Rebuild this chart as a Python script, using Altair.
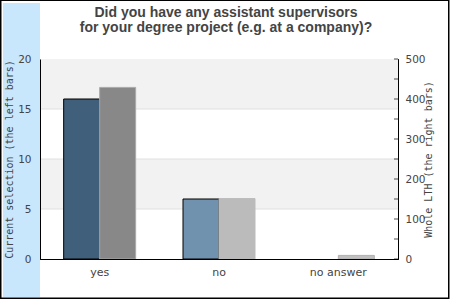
import altair as alt
import pandas as pd

categories = ["yes", "no", "no answer"]
current_selection = [16, 6, 0]
whole_lth = [429, 151, 9]
left_colors = ["#3f5f7a", "#7092ae", "#a9c4d9"]
right_colors = ["#888888", "#bbbbbb", "#c0c0c0"]
right_strokes = ["#aaaaaa", "#bbbbbb", "#b0b0b0"]
left_ticks = [0, 5, 10, 15, 20]
right_ticks = [0, 50, 100, 150, 200, 250, 300, 350, 400, 450, 500]
band_lo = [5, 15]
band_hi = [10, 20]
grid_values = [5, 10, 15]

df = pd.DataFrame({"cat": categories, "cur": current_selection, "whole": whole_lth})
bands = pd.DataFrame({"lo": band_lo, "hi": band_hi})
grid = pd.DataFrame({"g": grid_values})
rticks = pd.DataFrame({"whole": right_ticks})
one = pd.DataFrame({"a": [0]})

label_font = "DejaVu Sans"
mono = "DejaVu Sans Mono"
txt = "#444444"

xenc = alt.X("cat:N", sort=categories,
             scale=alt.Scale(paddingInner=0, paddingOuter=0),
             axis=alt.Axis(title=None, labelAngle=0, ticks=False, labelPadding=7,
                           labelFont=label_font, labelFontSize=11, labelColor=txt,
                           domainColor="black", zindex=1))

yleft_scale = alt.Scale(domain=[0, 20], nice=False)
yright_scale = alt.Scale(domain=[0, 500], nice=False)

right_axis = alt.Axis(title="Whole LTH (the right bars)", orient="right", values=right_ticks,
                      labelExpr="datum.value % 100 == 0 ? datum.label : ''",
                      ticks=False, grid=False, domainColor="black",
                      labelFont=label_font, labelFontSize=10.5, labelColor=txt, labelPadding=7,
                      titleFont=mono, titleFontSize=10, titleFontWeight="normal",
                      titleColor=txt, titleX=30, titleY=100, titleAngle=-90,
                      titleBaseline="middle", titleAlign="center", zindex=1)

decor_blue = alt.Chart(one).mark_rect(color="#c8e6fc").encode(
    x=alt.value(-37), x2=alt.value(0), y=alt.value(-56), y2=alt.value(238))
decor_border = alt.Chart(one).mark_rect(fill=None, stroke="black", strokeWidth=1.5).encode(
    x=alt.value(-39.25), x2=alt.value(408.75), y=alt.value(-58.75), y2=alt.value(239.25))

band_layer = alt.Chart(bands).mark_rect(color="#f2f2f2").encode(
    y=alt.Y("lo:Q", scale=yleft_scale), y2="hi:Q")
grid_layer = alt.Chart(grid).mark_rule(color="#e0e0e0").encode(
    y=alt.Y("g:Q", scale=yleft_scale))

left_bars = alt.Chart(df).transform_filter("datum.cur > 0").mark_bar(
    width=36, xOffset=-18, stroke="black", strokeWidth=1).encode(
    x=xenc,
    y=alt.Y("cur:Q", scale=yleft_scale,
            axis=alt.Axis(title="Current selection (the left bars)", values=left_ticks,
                          ticks=False, grid=False, domainColor="black",
                          labelFont=label_font, labelFontSize=10.5, labelColor=txt, labelPadding=9,
                          titleFont=mono, titleFontSize=10, titleFontWeight="normal",
                          titleColor=txt, titleX=-31, titleY=100, titleAngle=-90,
                          titleBaseline="middle", titleAlign="center", zindex=1)),
    color=alt.Color("cat:N", scale=alt.Scale(domain=categories, range=left_colors), legend=None),
)

left = alt.layer(decor_blue, band_layer, grid_layer, left_bars)

right_bars = alt.Chart(df).mark_bar(width=36, xOffset=18, strokeWidth=1).encode(
    x=xenc,
    y=alt.Y("whole:Q", scale=yright_scale, axis=right_axis),
    color=alt.Color("cat:N", scale=alt.Scale(domain=categories, range=right_colors), legend=None),
    stroke=alt.Stroke("cat:N", scale=alt.Scale(domain=categories, range=right_strokes), legend=None),
)

right_tick_marks = alt.Chart(rticks).mark_tick(color="black", size=4, thickness=1).encode(
    y=alt.Y("whole:Q", scale=yright_scale, axis=right_axis), x=alt.value(356))

right = alt.layer(right_bars, right_tick_marks)

chart = alt.layer(left, right, decor_border).resolve_scale(
    y="independent", color="independent", stroke="independent"
).properties(
    width=358, height=200,
    padding={"left": 40, "top": 59, "right": 52, "bottom": 41},
    autosize="none",
    background="white",
    title=alt.TitleParams(
        text=["Did you have any assistant supervisors", "for your degree project (e.g. at a company)?"],
        font="Liberation Sans", fontSize=14, fontWeight="bold", color=txt,
        anchor="middle", frame="group", dx=7, offset=-35, baseline="top", lineHeight=15),
).configure_view(stroke="black", strokeWidth=1)

chart.save("out.html", embed_options={"renderer": "svg", "actions": False})
